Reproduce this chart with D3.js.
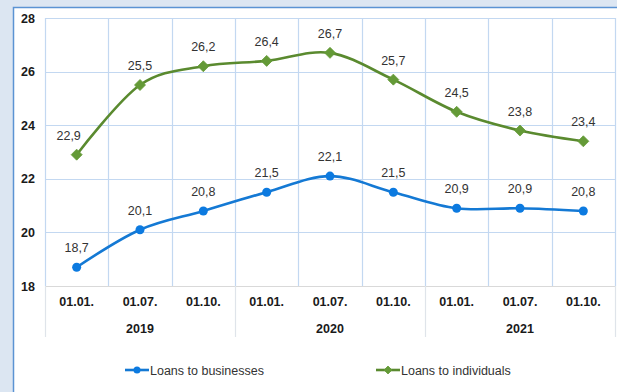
<!DOCTYPE html>
<html>
<head>
<meta charset="utf-8">
<script src="https://cdn.jsdelivr.net/npm/d3@7/dist/d3.min.js"></script>
<style>
  html, body { margin: 0; padding: 0; background: #dce6f2; }
  svg { display: block; font-family: "Liberation Sans", Arial, sans-serif; }
</style>
</head>
<body>
<svg id="chart" width="617" height="392"></svg>
<script>
// Category labels (dates) and the year each belongs to
const dates = ["01.01.", "01.07.", "01.10.", "01.01.", "01.07.", "01.10.", "01.01.", "01.07.", "01.10."];
const years = ["2019", "2020", "2021"];
const yearSpans = [[0, 2], [3, 5], [6, 8]];

// Series values, %
const businesses = [18.7, 20.1, 20.8, 21.5, 22.1, 21.5, 20.9, 20.9, 20.8];
const individuals = [22.9, 25.5, 26.2, 26.4, 26.7, 25.7, 24.5, 23.8, 23.4];

const yTicks = [18, 20, 22, 24, 26, 28];

const svg = d3.select("#chart");
const W = 617, H = 392;
const FS = 12.5;

// page and chart frame
svg.append("rect").attr("width", W).attr("height", H).attr("fill", "#dce6f2");
svg.append("rect")
  .attr("x", 13.5).attr("y", 7.5).attr("width", 640).attr("height", 420)
  .attr("fill", "#ffffff").attr("stroke", "#5b93d3").attr("stroke-width", 1.5);

const plot = { left: 45, right: 615, top: 18, bottom: 286 };

const x = d3.scaleBand().domain(d3.range(dates.length)).range([plot.left, plot.right]);
const y = d3.scaleLinear().domain([18, 28]).range([plot.bottom, plot.top]);
const cx = i => x(i) + x.bandwidth() / 2;

// gridlines
const grid = svg.append("g").attr("stroke", "#c3d8f1").attr("stroke-width", 1.2);
grid.selectAll("line.h").data(yTicks).join("line")
  .attr("x1", plot.left).attr("x2", plot.right)
  .attr("y1", d => Math.round(y(d)) + 0.5).attr("y2", d => Math.round(y(d)) + 0.5);
grid.selectAll("line.v").data(d3.range(dates.length + 1)).join("line")
  .attr("x1", i => Math.round(plot.left + i * x.bandwidth()) + 0.5)
  .attr("x2", i => Math.round(plot.left + i * x.bandwidth()) + 0.5)
  .attr("y1", plot.top).attr("y2", plot.bottom);

// category axis baseline and year separators
svg.append("line")
  .attr("x1", plot.left).attr("x2", plot.right)
  .attr("y1", plot.bottom + 0.5).attr("y2", plot.bottom + 0.5)
  .attr("stroke", "#d9d9d9").attr("stroke-width", 1.2);
const seps = [0, 3, 6, 9];
svg.selectAll("line.sep").data(seps).join("line")
  .attr("x1", i => Math.round(plot.left + i * x.bandwidth()) + 0.5)
  .attr("x2", i => Math.round(plot.left + i * x.bandwidth()) + 0.5)
  .attr("y1", plot.bottom).attr("y2", 337)
  .attr("stroke", "#dfe4ea").attr("stroke-width", 1.2);

// y axis labels
const yAxis = d3.axisLeft(y).tickValues(yTicks).tickSize(0).tickPadding(0).tickFormat(d3.format("d"));
const ya = svg.append("g").attr("transform", `translate(${35},0)`).call(yAxis);
ya.select(".domain").remove();
ya.selectAll("text")
  .attr("font-size", FS).attr("font-weight", "bold").attr("fill", "#1a1a1a")
  .attr("font-family", "Liberation Sans, Arial, sans-serif");

// x axis: dates then years
const xAxis = d3.axisBottom(x).tickFormat(i => dates[i]).tickSize(0).tickPadding(0);
const xa = svg.append("g").attr("transform", `translate(0,${297})`).call(xAxis);
xa.select(".domain").remove();
xa.selectAll("text")
  .attr("dy", "0.71em")
  .attr("font-size", FS).attr("font-weight", "bold").attr("fill", "#1a1a1a")
  .attr("font-family", "Liberation Sans, Arial, sans-serif");

svg.selectAll("text.year").data(years).join("text")
  .attr("x", (d, k) => (cx(yearSpans[k][0]) + cx(yearSpans[k][1])) / 2)
  .attr("y", 333)
  .attr("text-anchor", "middle")
  .attr("font-size", FS).attr("font-weight", "bold").attr("fill", "#1a1a1a")
  .text(d => d);

// series
const series = [
  { name: "Loans to businesses", values: businesses, line: "#1479d4", fill: "#0c7ae0", marker: "circle" },
  { name: "Loans to individuals", values: individuals, line: "#5a8a2f", fill: "#649a37", marker: "diamond" }
];

const line = d3.line()
  .x((d, i) => cx(i))
  .y(d => y(d))
  .curve(d3.curveCatmullRom.alpha(0));

const fmt = v => d3.format(".1f")(v).replace(".", ",");

function drawMarker(g, type, color, size) {
  if (type === "circle") {
    g.append("circle").attr("r", size / 2).attr("fill", color);
  } else {
    const s = size / 2;
    g.append("path").attr("d", `M0,${-s}L${s},0L0,${s}L${-s},0Z`).attr("fill", color)
      .attr("stroke", color).attr("stroke-width", 0.8).attr("stroke-linejoin", "round");
  }
}

series.forEach(s => {
  svg.append("path").datum(s.values)
    .attr("d", line).attr("fill", "none")
    .attr("stroke", s.line).attr("stroke-width", 2.6).attr("stroke-linecap", "round");

  s.values.forEach((v, i) => {
    const g = svg.append("g").attr("transform", `translate(${cx(i)},${y(v)})`);
    drawMarker(g, s.marker, s.fill, s.marker === "circle" ? 9 : 11);
  });

  svg.selectAll(null).data(s.values).join("text")
    .attr("x", (v, i) => cx(i) + (s.marker === "diamond" && i === 0 ? -8 : 0))
    .attr("y", v => y(v) - 15)
    .attr("text-anchor", "middle")
    .attr("font-size", FS).attr("fill", "#333333")
    .text(fmt);
});

// legend
const legendItems = [
  { s: series[0], x0: 125 },
  { s: series[1], x0: 376 }
];
legendItems.forEach(({ s, x0 }) => {
  const ly = 370;
  svg.append("line").attr("x1", x0).attr("x2", x0 + 24)
    .attr("y1", ly).attr("y2", ly)
    .attr("stroke", s.line).attr("stroke-width", 2.6);
  const g = svg.append("g").attr("transform", `translate(${x0 + 12},${ly})`);
  drawMarker(g, s.marker, s.fill, s.marker === "circle" ? 7 : 8);
  svg.append("text").attr("x", x0 + 25).attr("y", ly + 4.5)
    .attr("font-size", FS).attr("fill", "#333333").text(s.name);
});
</script>
</body>
</html>
